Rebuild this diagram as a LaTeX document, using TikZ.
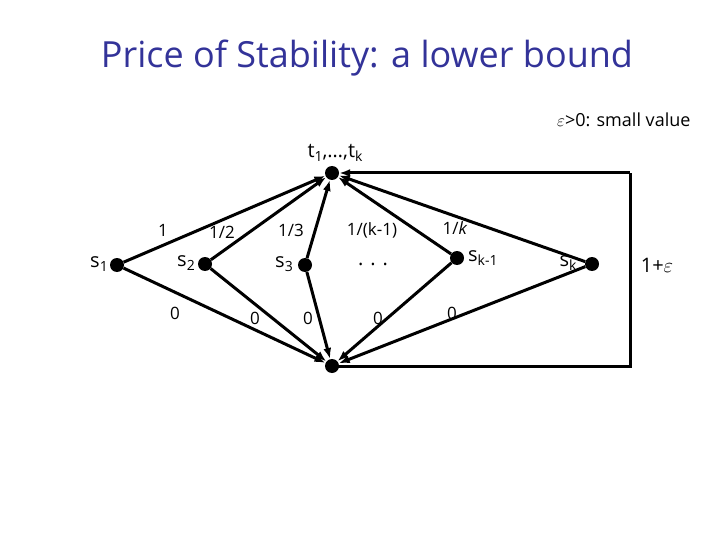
\documentclass[tikz,border=0pt]{standalone}
\usepackage{fontspec}
\setmainfont{Open Sans}
\usetikzlibrary{arrows.meta}
\definecolor{titleblue}{RGB}{51,51,153}
\newcommand\sbx[1]{\raisebox{-0.4ex}{\fontsize{14}{15}\selectfont #1}}
\begin{document}
\begin{tikzpicture}[x=1pt,y=-1pt,
  dot/.style={circle,fill=black,inner sep=0pt,minimum size=14pt},
  edge/.style={line width=3pt,-{Latex[length=11pt,width=8pt]}},
  plain/.style={line width=3pt},
  lbl/.style={font=\fontsize{17}{20}\selectfont,inner sep=0pt}]
\useasboundingbox (0,0) rectangle (720,540);
\node[text=titleblue,font=\fontsize{36}{42}\selectfont] (title) at (367,58) {Price of Stability: a lower bound};
\node[font=\fontsize{18}{21}\selectfont,anchor=east] (eps) at (694,120) {$\varepsilon$>0: small value};
% nodes
\node[dot] (T) at (332,173) {};
\node[dot] (B) at (332,366) {};
\node[dot] (s1) at (117,265) {};
\node[dot] (s2) at (205,264) {};
\node[dot] (s3) at (305,265) {};
\node[dot] (sk1) at (457,258) {};
\node[dot] (sk) at (592,264) {};
\coordinate (tr) at (630,173);
\coordinate (br) at (630,366);
% node labels
\node[font=\fontsize{20}{22}\selectfont] (Tl) at (335,153) {t\sbx{1},\dots,t\sbx{k}};
\node[lbl,font=\fontsize{20}{22}\selectfont] (s1l) at (99,264) {s\sbx{1}};
\node[lbl,font=\fontsize{20}{22}\selectfont] (s2l) at (186,263) {s\sbx{2}};
\node[lbl,font=\fontsize{20}{22}\selectfont] (s3l) at (284,264) {s\sbx{3}};
\node[lbl,font=\fontsize{20}{22}\selectfont,anchor=west] (sk1l) at (468,258) {s\sbx{k-1}};
\node[lbl,font=\fontsize{20}{22}\selectfont] (skl) at (568,263) {s\sbx{k}};
\node[lbl,font=\fontsize{20}{22}\selectfont] (dots) at (373,264) {. . .};
\node[lbl,font=\fontsize{20}{22}\selectfont] (one) at (657,265) {1+$\varepsilon$};
% edge labels
\node[lbl] (l1) at (163,230) {1};
\node[lbl] (l2) at (222,232) {1/2};
\node[lbl] (l3) at (291,230) {1/3};
\node[lbl] (l4) at (372,230) {1/(k-1)};
\node[lbl] (l5) at (455,228) {1/\textit{k}};
\node[lbl] (z1) at (175,313) {0};
\node[lbl] (z2) at (255,318) {0};
\node[lbl] (z3) at (308,318) {0};
\node[lbl] (z4) at (378,318) {0};
\node[lbl] (z5) at (452,313) {0};
% edges
\foreach \s in {s1,s2,s3,sk1,sk} {
  \draw[edge] (\s) -- (T);
  \draw[edge] (\s) -- (B);
}
\draw[plain] (B.center) -- (br) -- (tr);
\draw[edge] (tr) -- (T);
\end{tikzpicture}
\end{document}
